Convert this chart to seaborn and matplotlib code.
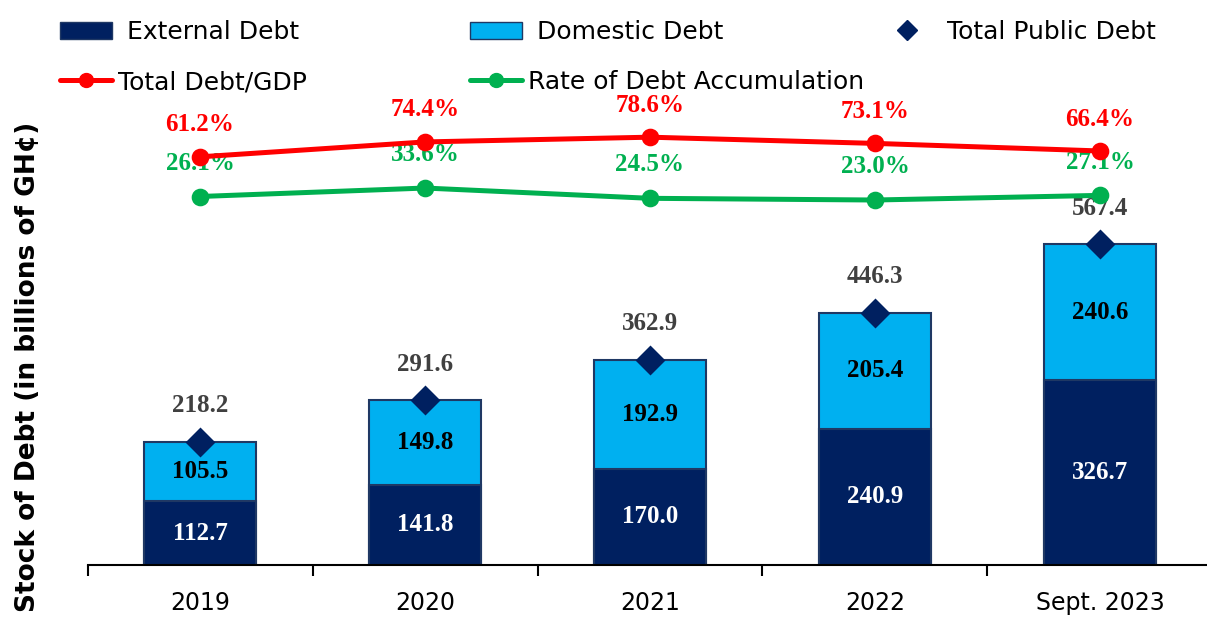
import numpy as np
import pandas as pd
import matplotlib
matplotlib.use("Agg")
import matplotlib.pyplot as plt
import seaborn as sns
from matplotlib.patches import Patch
from matplotlib.lines import Line2D
from matplotlib.ticker import FixedLocator

# ---- data ----
years = ["2019", "2020", "2021", "2022", "Sept. 2023"]
external_debt = [112.7, 141.8, 170.0, 240.9, 326.7]
domestic_debt = [105.5, 149.8, 192.9, 205.4, 240.6]
total_public_debt = [218.2, 291.6, 362.9, 446.3, 567.4]
debt_to_gdp = [61.2, 74.4, 78.6, 73.1, 66.4]
debt_accumulation = [26.1, 33.6, 24.5, 23.0, 27.1]

NAVY = "#002060"
LIGHT = "#00B0F0"
EDGE = "#1F3864"
RED = "#FF0000"
GREEN = "#00B050"
GREY = "#404040"

sns.set_theme(style="white")
plt.rcParams["font.family"] = ["DejaVu Sans"]
plt.rcParams["text.color"] = "black"
plt.rcParams["xtick.color"] = "black"
plt.rcParams["xtick.labelcolor"] = "black"

W, H = 1207, 617
fig = plt.figure(figsize=(W / 100, H / 100), dpi=100)
ax = fig.add_axes([87.5 / W, (H - 565) / H, 1125 / W, 565 / H])

df = pd.DataFrame({
    "year": years,
    "external": external_debt,
    "domestic": domestic_debt,
    "total": total_public_debt,
    "gdp": debt_to_gdp,
    "accum": debt_accumulation,
})
df["stack"] = df["external"] + df["domestic"]

# stacked bars: full stack in light blue, external drawn over it
sns.barplot(data=df, x="year", y="stack", color=LIGHT, saturation=1, width=0.5,
            edgecolor=EDGE, linewidth=1.5, ax=ax, errorbar=None)
sns.barplot(data=df, x="year", y="external", color=NAVY, saturation=1, width=0.5,
            edgecolor=EDGE, linewidth=1.5, ax=ax, errorbar=None)
sns.pointplot(data=df, x="year", y="total", color=NAVY, markers="D",
              linestyle="none", markersize=13, ax=ax, errorbar=None, zorder=5)

serif = ["Liberation Serif", "DejaVu Serif"]
VF = 18
for i, row in df.iterrows():
    ax.text(i, row["external"] / 2, f"{row['external']:.1f}", ha="center", va="center",
            color="white", fontsize=VF, fontweight="bold", family=serif)
    ax.text(i, row["external"] + row["domestic"] / 2, f"{row['domestic']:.1f}",
            ha="center", va="center", color="black", fontsize=VF, fontweight="bold", family=serif)
    ax.annotate(f"{row['total']:.1f}", (i, row["total"]), xytext=(0, 26),
                textcoords="offset points", ha="center", va="center", color=GREY,
                fontsize=VF, fontweight="bold", family=serif)

ax.set_ylim(0, 1000)

# lines on secondary axis
ax2 = ax.twinx()
sns.pointplot(data=df, x="year", y="gdp", color=RED, markers="o", markersize=10,
              linewidth=3.6, ax=ax2, errorbar=None)
sns.pointplot(data=df, x="year", y="accum", color=GREEN, markers="o", markersize=10,
              linewidth=3.6, ax=ax2, errorbar=None)
ax2.set_ylim(-300, 200)
for i, row in df.iterrows():
    ax2.annotate(f"{row['gdp']:.1f}%", (i, row["gdp"]), xytext=(0, 23),
                 textcoords="offset points", ha="center", va="center", color=RED,
                 fontsize=VF, fontweight="bold", family=serif, zorder=1.5)
    ax2.annotate(f"{row['accum']:.1f}%", (i, row["accum"]), xytext=(0, 24),
                 textcoords="offset points", ha="center", va="center", color=GREEN,
                 fontsize=VF, fontweight="bold", family=serif, zorder=1.5)
ax2.set_axis_off()

ax.set_xlim(-0.5, 4.5)
ax.set_xlabel("")
ax.set_ylabel("")
ax.set_yticks([])
for s in ["left", "right", "top"]:
    ax.spines[s].set_visible(False)
ax.spines["bottom"].set_color("black")
ax.spines["bottom"].set_linewidth(1.5)
ax.xaxis.set_minor_locator(FixedLocator(np.arange(-0.5, 5.0, 1.0)))
ax.tick_params(axis="x", which="major", length=0, pad=19, labelsize=17, labelcolor="black")
ax.tick_params(axis="x", which="minor", bottom=True, length=8, width=1.5,
               direction="out", color="black")

fig.text(28 / W, 1 - 367 / H, "Stock of Debt (in billions of GH¢)", rotation=90,
         ha="center", va="center", fontsize=19, fontweight="bold", color="black")

# legend entries
fs = 18
fs_px = fs * 100 / 72


def add_entry(handle, label, x_px, y_px, pad_px):
    leg = fig.legend(handles=[handle], labels=[label], loc="center left",
                     bbox_to_anchor=(x_px / W, 1 - y_px / H), frameon=False, fontsize=fs,
                     borderpad=0, borderaxespad=0, handlelength=52 / fs_px,
                     handletextpad=pad_px / fs_px)
    for t in leg.get_texts():
        t.set_color("black")


add_entry(Patch(facecolor=NAVY, edgecolor=EDGE), "External Debt", 60, 32, 15)
add_entry(Patch(facecolor=LIGHT, edgecolor=EDGE), "Domestic Debt", 470, 32, 15)
add_entry(Line2D([], [], color=NAVY, marker="D", linestyle="none", markersize=10),
          "Total Public Debt", 881, 32, 14)
add_entry(Line2D([], [], color=RED, marker="o", markersize=10, linewidth=3.6),
          "Total Debt/GDP", 60, 82, 6)
add_entry(Line2D([], [], color=GREEN, marker="o", markersize=10, linewidth=3.6),
          "Rate of Debt Accumulation", 470, 82, 6)

fig.savefig("out.png", dpi=100)
